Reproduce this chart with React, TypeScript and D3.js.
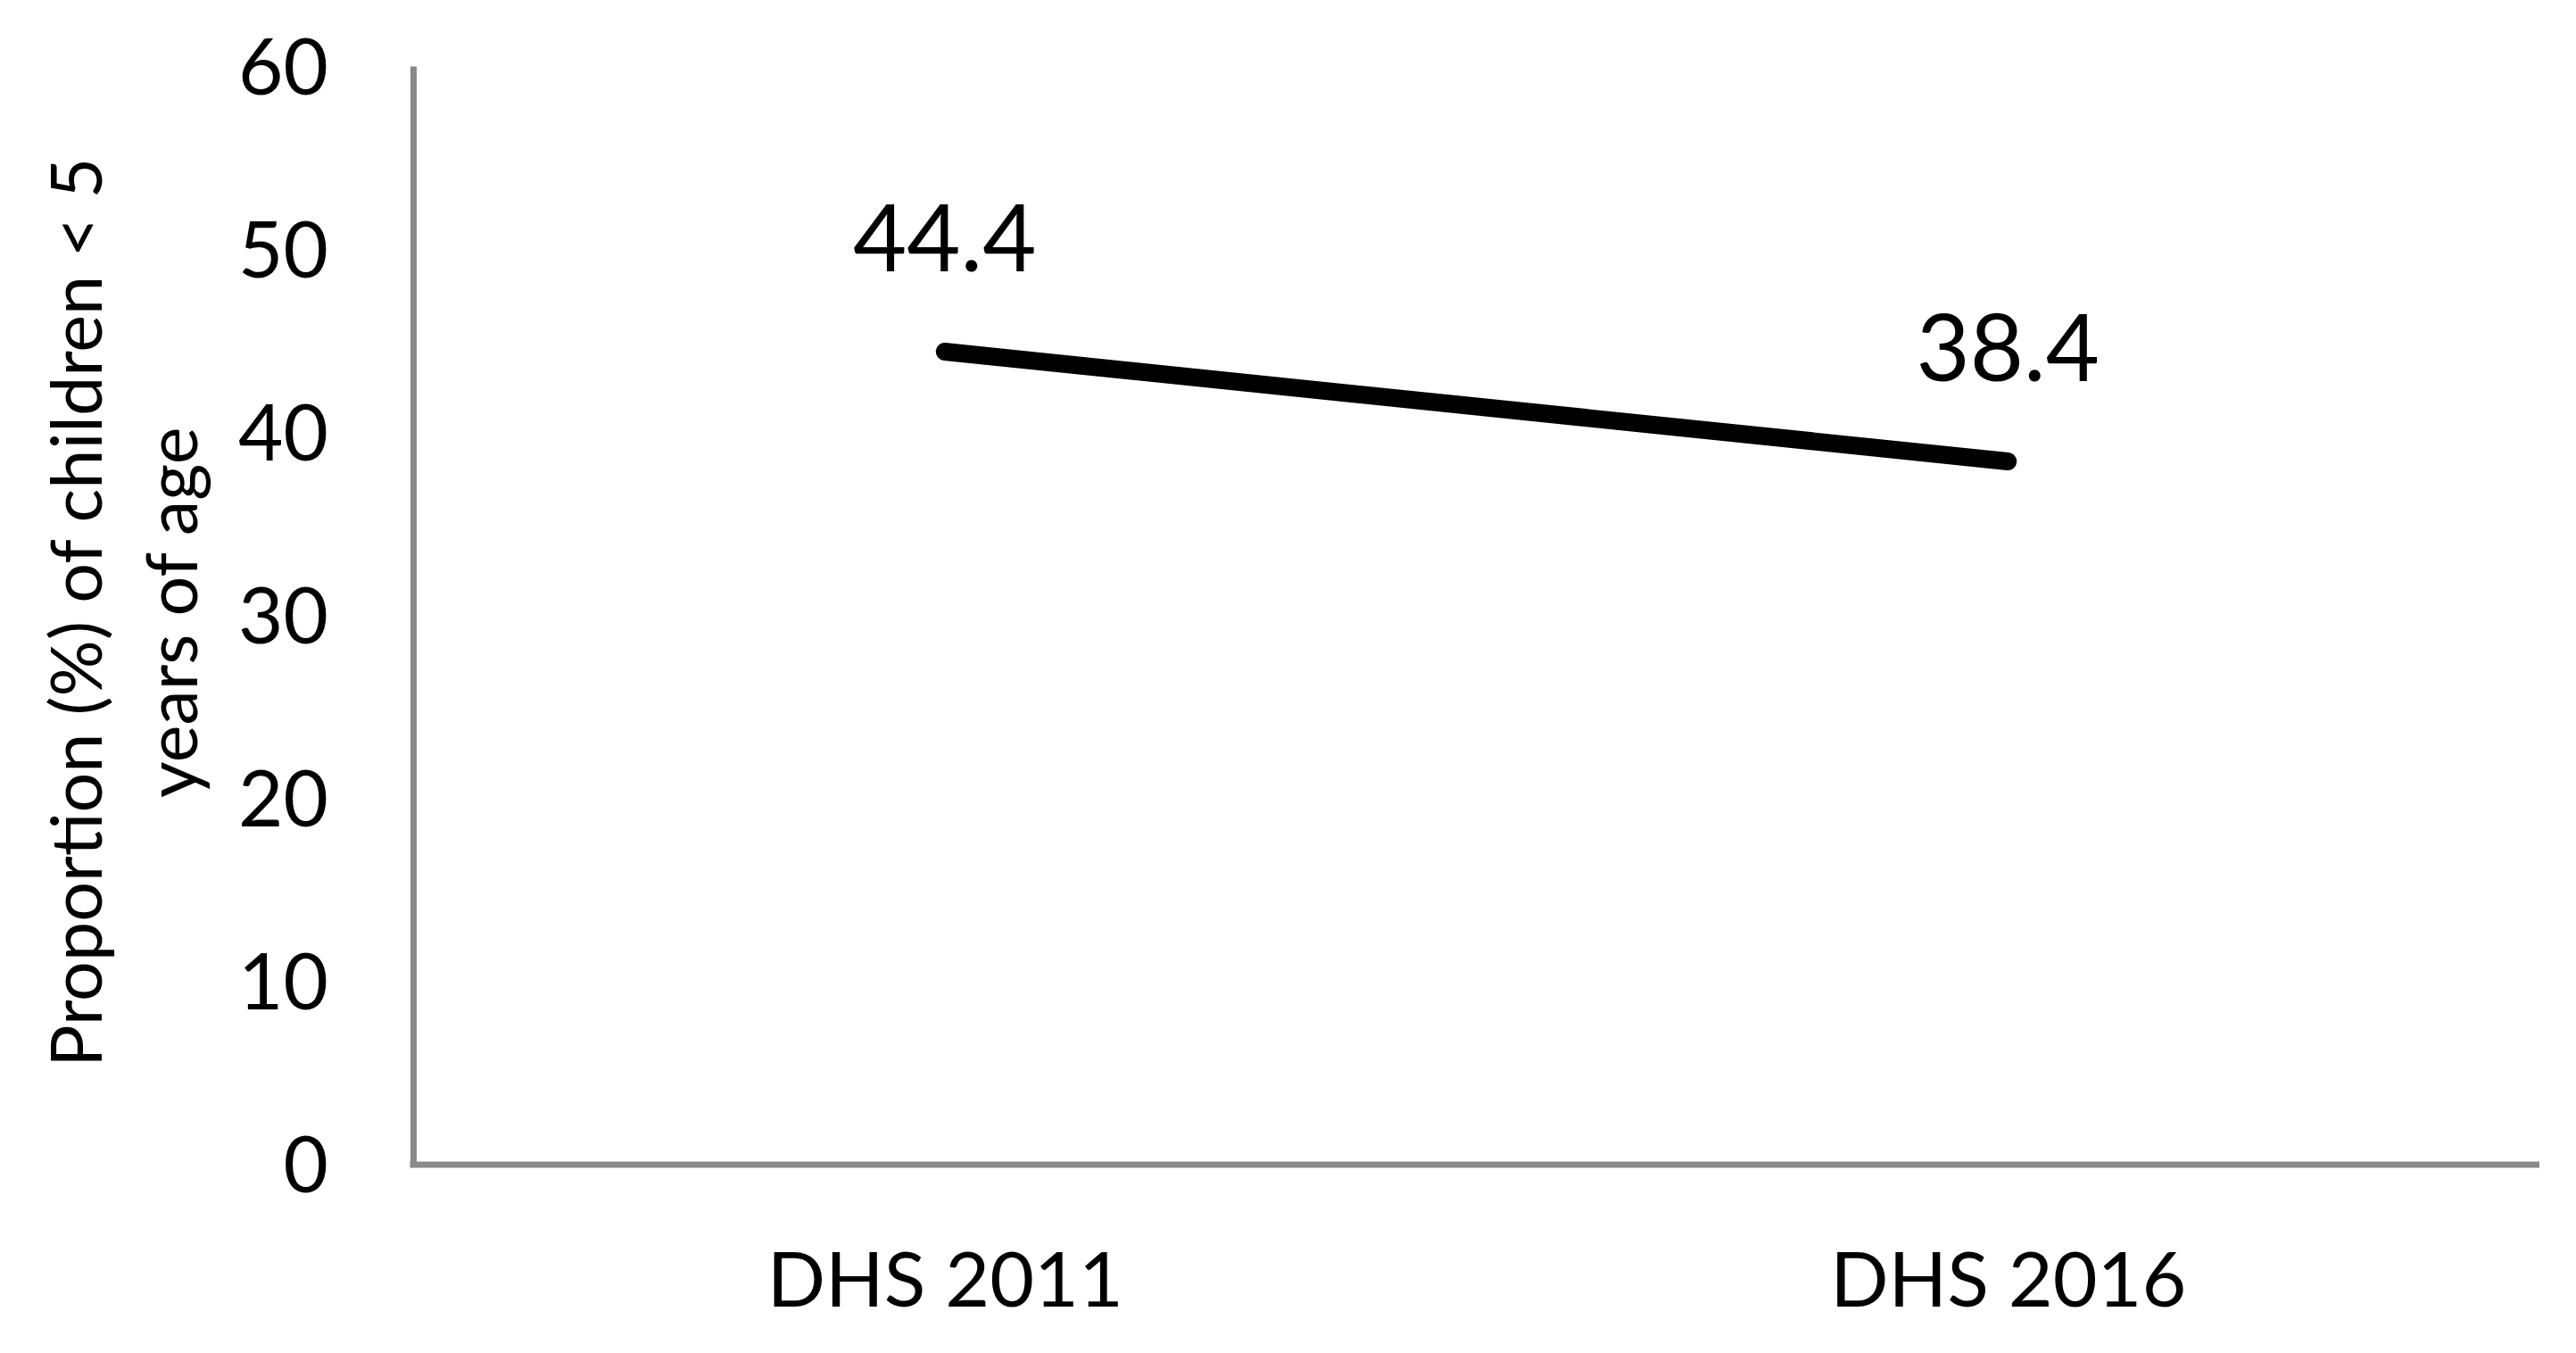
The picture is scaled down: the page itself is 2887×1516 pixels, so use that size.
import React, { useEffect, useRef } from "react";
import { select, scalePoint, scaleLinear, axisLeft, axisBottom, line } from "d3";

// data
const categories = ["DHS 2011", "DHS 2016"];
const values = [44.4, 38.4];
const yTicks = [0, 10, 20, 30, 40, 50, 60];
const yTitleLines = ["Proportion (%) of children < 5", "years of age"];

const WIDTH = 2887;
const HEIGHT = 1516;
const FONT = "Lato, 'Open Sans', sans-serif";
const AXIS_GREY = "#898989";

function LineChart() {
  const svgRef = useRef<SVGSVGElement | null>(null);

  useEffect(() => {
    const svg = select(svgRef.current);
    svg.selectAll("*").remove();

    const left = 463;
    const right = 2846;
    const top = 74;
    const bottom = 1304.5;

    //scales
    const xScale = scalePoint<string>()
      .domain(categories)
      .range([left, right])
      .padding(0.5);
    const yScale = scaleLinear().domain([0, 60]).range([bottom, top]);

    //axes
    const yAxis = axisLeft(yScale).tickValues(yTicks).tickSize(0).tickSizeOuter(0).tickPadding(95);
    const yG = svg
      .append("g")
      .attr("class", "y-axis")
      .attr("transform", `translate(${left}, 0)`)
      .call(yAxis);
    yG.select(".domain").attr("stroke", AXIS_GREY).attr("stroke-width", 7);
    yG.selectAll("text")
      .attr("fill", "#000")
      .attr("font-family", FONT)
      .attr("font-size", 87)
      .attr("dy", "0.36em");

    const xAxis = axisBottom(xScale).tickSize(0).tickSizeOuter(0).tickPadding(159);
    const xG = svg
      .append("g")
      .attr("class", "x-axis")
      .attr("transform", `translate(0, ${bottom})`)
      .call(xAxis);
    xG.select(".domain")
      .attr("stroke", AXIS_GREY)
      .attr("stroke-width", 7)
      .attr("d", `M${left - 3.5},0.5H${right}`);
    xG.selectAll("text")
      .attr("fill", "#000")
      .attr("font-family", FONT)
      .attr("font-size", 86)
      .attr("dy", 0);
    svg.selectAll(".tick line").remove();

    //series line
    const points = categories.map((c, i) => ({ c, v: values[i] }));
    const lineGen = line<{ c: string; v: number }>()
      .x((d) => xScale(d.c) as number)
      .y((d) => yScale(d.v));
    svg
      .append("path")
      .datum(points)
      .attr("d", lineGen)
      .attr("fill", "none")
      .attr("stroke", "#000")
      .attr("stroke-width", 20)
      .attr("stroke-linecap", "round");

    //data labels
    svg
      .selectAll(".data-label")
      .data(points)
      .join("text")
      .attr("class", "data-label")
      .attr("x", (d) => xScale(d.c) as number)
      .attr("y", (d) => yScale(d.v) - 90)
      .attr("text-anchor", "middle")
      .attr("font-family", FONT)
      .attr("font-size", 104)
      .attr("fill", "#000")
      .text((d) => d.v.toFixed(1));

    //y axis title, two lines
    const titleCenter = (top + bottom) / 2 - 3;
    svg
      .selectAll(".y-title")
      .data(yTitleLines)
      .join("text")
      .attr("class", "y-title")
      .attr("transform", (d, i) => `translate(${114 + i * 107}, ${titleCenter}) rotate(-90)`)
      .attr("text-anchor", "middle")
      .attr("font-family", FONT)
      .attr("font-size", 79)
      .attr("fill", "#000")
      .text((d) => d);
  }, []);

  return (
    <svg
      ref={svgRef}
      width={WIDTH}
      height={HEIGHT}
      style={{ position: "absolute", left: 0, top: 0, background: "#fff" }}
    />
  );
}

export default function App() {
  return <LineChart />;
}
